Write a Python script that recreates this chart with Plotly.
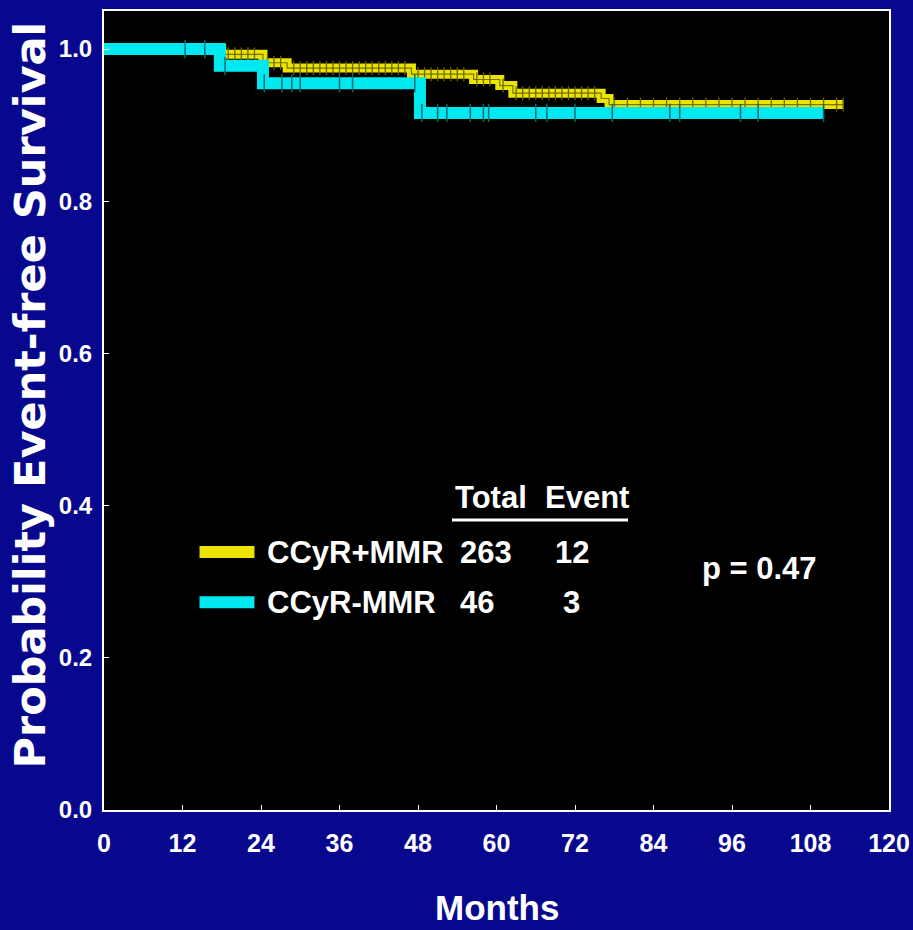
import plotly.graph_objects as go

# ---------------- data ----------------
months_ticks = [0, 12, 24, 36, 48, 60, 72, 84, 96, 108, 120]
surv_ticks = [0.0, 0.2, 0.4, 0.6, 0.8, 1.0]
surv_tick_labels = ["0.0", "0.2", "0.4", "0.6", "0.8", "1.0"]

# CCyR+MMR (yellow) Kaplan-Meier steps
yel_t = [0, 18, 24.3, 28, 47, 56.5, 60.5, 62.5, 76, 77.2, 113]
yel_s = [1.0, 0.993, 0.982, 0.975, 0.967, 0.960, 0.952, 0.942, 0.935, 0.927, 0.927]
yel_cens_t = [19, 20, 21, 22, 23, 25, 26, 27, 29, 30, 31, 32, 33, 34, 35, 36, 37, 38, 39,
              40, 41, 42, 43, 44, 45, 46, 48, 49, 50, 51, 52, 53, 54, 55, 57, 58, 59,
              61, 63, 64, 65, 66, 67, 68, 69, 70, 71, 72, 73, 74, 75, 78, 80, 82, 84,
              86, 88, 90, 92, 94, 96, 98, 100, 102, 104, 106, 108, 110, 112, 113]

# CCyR-MMR (cyan) Kaplan-Meier steps
cyan_t = [0, 17.7, 24.3, 48.3, 110]
cyan_s = [1.0, 0.978, 0.955, 0.916, 0.916]
cyan_cens_t = [12.4, 15.4, 18.5, 24.5, 27.2, 28.7, 30, 36, 38, 47.5, 48.6, 51, 52.4, 56,
               58, 58.8, 66, 67.7, 72, 77.7, 86.5, 88, 97.3, 100, 110]

groups = ["CCyR+MMR", "CCyR-MMR"]
totals = ["263", "46"]
events = ["12", "3"]
header = ["Total", "Event"]
p_text = "p = 0.47"


def km_at(ts, ss, t):
    val = ss[0]
    for ti, si in zip(ts, ss):
        if ti <= t:
            val = si
    return val


yel_cens_s = [km_at(yel_t, yel_s, t) for t in yel_cens_t]
cyan_cens_s = [km_at(cyan_t, cyan_s, t) for t in cyan_cens_t]

YELLOW = "#ece400"
CYAN = "#00e8f0"
BG = "#08088e"
FONT = "Liberation Sans, Arial, sans-serif"
LEG = dict(family=FONT, size=31, color="white", weight="bold")

fig = go.Figure()

# yellow curve
fig.add_trace(go.Scatter(x=yel_t, y=yel_s, mode="lines", line=dict(color=YELLOW, width=9, shape="hv"),
                         hoverinfo="skip", showlegend=False))
fig.add_trace(go.Scatter(x=yel_t, y=yel_s, mode="lines", line=dict(color="#7a7400", width=1.2, shape="hv"),
                         hoverinfo="skip", showlegend=False))
fig.add_trace(go.Scatter(x=yel_cens_t, y=yel_cens_s, mode="markers",
                         marker=dict(symbol="line-ns", size=10, line=dict(color="#6a6400", width=1.3)),
                         hoverinfo="skip", showlegend=False))

# cyan curve
fig.add_trace(go.Scatter(x=cyan_t, y=cyan_s, mode="lines", line=dict(color=CYAN, width=12, shape="hv"),
                         hoverinfo="skip", showlegend=False))
fig.add_trace(go.Scatter(x=cyan_cens_t, y=cyan_cens_s, mode="markers",
                         marker=dict(symbol="line-ns", size=13, line=dict(color="#0a6a70", width=1.5)),
                         hoverinfo="skip", showlegend=False))

# ---------------- custom legend ----------------
row_y = [0.339, 0.273]
colors = [YELLOW, CYAN]
for i in range(2):
    fig.add_shape(type="line", xref="x", yref="y", x0=14.6, x1=23.0, y0=row_y[i], y1=row_y[i],
                  line=dict(color=colors[i], width=12))
    fig.add_annotation(x=24.6, y=row_y[i], xref="x", yref="y", text=groups[i], showarrow=False,
                       xanchor="left", yanchor="middle", font=LEG)
    fig.add_annotation(x=54.1, y=row_y[i], xref="x", yref="y", text=totals[i], showarrow=False,
                       xanchor="left", yanchor="middle", font=LEG)
    fig.add_annotation(x=71.5, y=row_y[i], xref="x", yref="y", text=events[i], showarrow=False,
                       xanchor="center", yanchor="middle", font=LEG)

fig.add_annotation(x=53.3, y=0.411, xref="x", yref="y", text=header[0], showarrow=False,
                   xanchor="left", yanchor="middle", font=LEG)
fig.add_annotation(x=67.1, y=0.411, xref="x", yref="y", text=header[1], showarrow=False,
                   xanchor="left", yanchor="middle", font=LEG)
fig.add_shape(type="line", xref="x", yref="y", x0=53.2, x1=80.1, y0=0.381, y1=0.381,
              line=dict(color="white", width=3))

fig.add_annotation(x=91.1, y=0.318, xref="x", yref="y", text=p_text, showarrow=False,
                   xanchor="left", yanchor="middle", font=LEG)

# axis titles
fig.add_annotation(x=-0.094, y=0.519, xref="paper", yref="paper", text="Probability Event-free Survival",
                   showarrow=False, textangle=-90, xanchor="center", yanchor="middle",
                   font=dict(family="DejaVu Sans, sans-serif", size=43, color="white", weight="bold"))
fig.add_annotation(x=0.5006, y=-0.122, xref="paper", yref="paper", text="Months",
                   showarrow=False, xanchor="center", yanchor="middle",
                   font=dict(family=FONT, size=35, color="white", weight="bold"))

fig.update_layout(
    width=913, height=930,
    margin=dict(l=104, r=24, t=11, b=120, autoexpand=False),
    paper_bgcolor=BG, plot_bgcolor="black",
    showlegend=False,
)
fig.update_xaxes(range=[0, 120], tickvals=months_ticks, ticktext=[str(m) for m in months_ticks],
                 showgrid=False, zeroline=False, showline=True, mirror=True, linecolor="white", linewidth=2,
                 ticks="inside", ticklen=5, tickcolor="white", ticklabelstandoff=10,
                 ticklabeloverflow="allow", automargin=False,
                 tickfont=dict(family=FONT, size=25, color="white", weight="bold"))
fig.update_yaxes(range=[0, 1.05], tickvals=surv_ticks, ticktext=surv_tick_labels,
                 showgrid=False, zeroline=False, showline=True, mirror=True, linecolor="white", linewidth=2,
                 ticks="inside", ticklen=5, tickcolor="white", ticklabelstandoff=5, automargin=False,
                 tickfont=dict(family=FONT, size=24, color="white", weight="bold"))

fig.write_html("out.html")
